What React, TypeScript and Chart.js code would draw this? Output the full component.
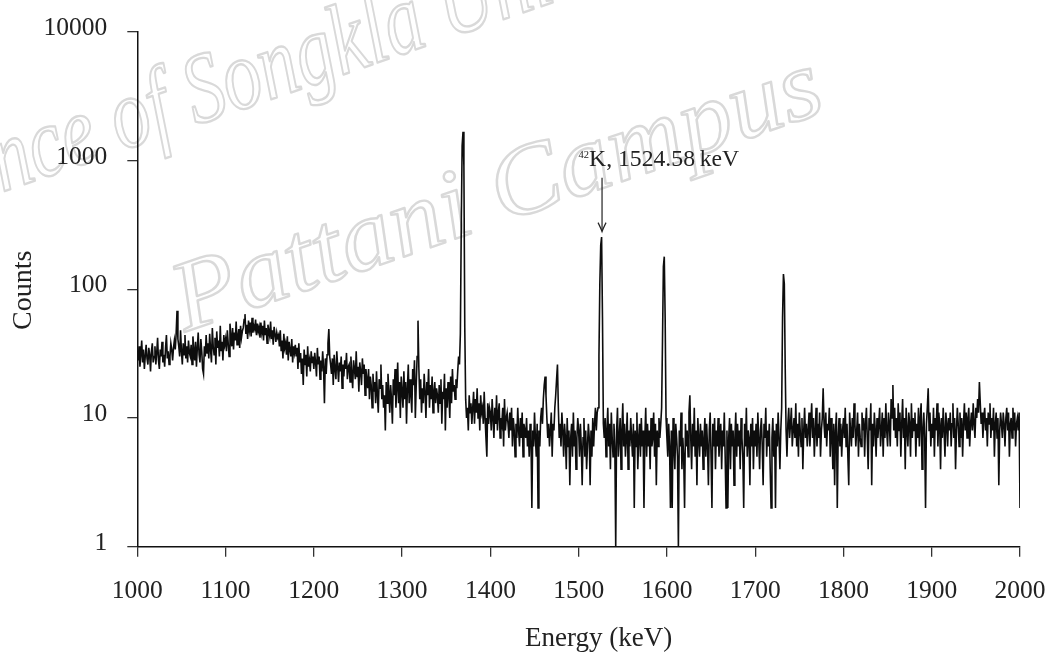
import { useEffect, useRef } from "react";
import { Chart, registerables } from "chart.js";

Chart.register(...registerables);

const WIDTH = 1051;
const HEIGHT = 659;

// Spectrum channels: 1 keV wide, starting at 1000 keV
const ENERGY_START_KEV = 1000;
const ENERGY_STEP_KEV = 1;

const COUNTS_1000_1199 = [
  33, 28, 36, 25, 31, 40, 27, 34, 24, 30, 37, 29, 26, 35, 31, 23, 33, 38, 27, 30,
  36, 26, 32, 42, 28, 24, 34, 30, 39, 27, 31, 25, 35, 44, 29, 33, 26, 30, 38, 34,
  28, 35, 40, 34, 45, 68, 41, 36, 30, 48, 33, 26, 38, 31, 44, 29, 36, 27, 40, 32,
  30, 37, 26, 43, 34, 28, 39, 25, 35, 46, 31, 27, 41, 33, 24, 22, 36, 30, 44, 32,
  38, 29, 45, 34, 27, 50, 36, 31, 42, 26, 47, 35, 40, 30, 52, 33, 39, 28, 44, 37,
  41, 33, 48, 38, 30, 54, 44, 36, 50, 34, 46, 40, 56, 37, 43, 49, 35, 52, 42, 47,
  50, 58, 64, 45, 53, 41, 57, 48, 55, 43, 60, 46, 52, 49, 58, 44, 54, 47, 51, 42,
  55, 46, 52, 40, 57, 44, 50, 38, 53, 47, 43, 56, 41, 48, 37, 51, 45, 39, 46, 42,
  44, 36, 48, 33, 40, 29, 45, 35, 38, 31, 43, 28, 39, 34, 30, 41, 27, 36, 32, 37,
  30, 35, 24, 38, 27, 32, 22, 29, 18, 34, 26, 31, 21, 36, 25, 28, 23, 33, 27, 30,
];

const COUNTS_1200_1399 = [
  24, 32, 27, 21, 35, 26, 30, 20, 28, 23, 33, 25, 13, 29, 22, 31, 38, 49, 30, 26,
  22, 29, 18, 31, 24, 20, 33, 25, 19, 27, 23, 30, 17, 26, 21, 28, 24, 32, 20, 25,
  26, 19, 30, 22, 17, 28, 24, 20, 33, 21, 25, 16, 27, 23, 18, 29, 22, 26, 15, 24,
  20, 17, 24, 14, 21, 18, 12, 22, 16, 19, 13, 23, 15, 11, 20, 17, 26, 14, 18, 12,
  15, 8, 19, 13, 22, 16, 11, 18, 14, 9, 20, 15, 24, 12, 17, 27, 13, 19, 10, 21,
  16, 12, 23, 14, 19, 9, 17, 26, 13, 20, 15, 11, 24, 18, 28, 10, 18, 30, 57, 24,
  14, 20, 11, 17, 13, 22, 16, 10, 19, 15, 24, 12, 18, 14, 21, 11, 16, 19, 13, 17,
  15, 11, 18, 13, 20, 9, 16, 14, 22, 8, 17, 12, 19, 15, 10, 21, 13, 24, 16, 18,
  14, 20, 17, 23, 30, 26, 45, 300, 1300, 1670, 900, 50, 14, 10, 12, 8, 15, 11, 13, 9,
  12, 16, 9, 14, 11, 17, 10, 13, 8, 15, 11, 12, 9, 16, 10, 7, 5, 13, 9, 12,
];

const COUNTS_1400_1599 = [
  11, 8, 14, 10, 7, 12, 9, 15, 8, 11, 13, 7, 10, 9, 12, 6, 14, 8, 10, 11,
  9, 7, 11, 8, 12, 6, 10, 8, 5, 9, 7, 12, 8, 6, 10, 7, 11, 5, 9, 8,
  7, 10, 6, 8, 5, 9, 7, 2, 8, 6, 11, 7, 5, 9, 2, 8, 6, 10, 12, 9,
  14, 18, 21, 15, 10, 7, 9, 6, 8, 11, 5, 9, 8, 12, 15, 20, 26, 12, 7, 9,
  6, 11, 8, 5, 9, 7, 4, 10, 6, 8, 3, 7, 9, 5, 11, 6, 8, 4, 7, 10,
  8, 5, 9, 6, 3, 7, 10, 5, 8, 4, 6, 9, 7, 3, 8, 5, 10, 6, 9, 12,
  8, 11, 12, 30, 110, 220, 254, 60, 9, 7, 10, 5, 8, 12, 6, 9, 4, 11, 7, 5,
  9, 6, 1, 8, 12, 5, 7, 10, 4, 8, 13, 6, 9, 5, 7, 11, 4, 8, 6, 10,
  7, 5, 9, 2, 8, 6, 11, 4, 7, 9, 5, 10, 6, 8, 2, 7, 12, 5, 9, 6,
  8, 4, 10, 6, 7, 11, 5, 9, 3, 8, 6, 10, 7, 9, 12, 40, 150, 179, 60, 10,
];

const COUNTS_1600_1799 = [
  7, 5, 9, 6, 2, 8, 2, 10, 6, 4, 9, 7, 5, 1, 8, 6, 11, 4, 7, 5,
  2, 9, 6, 8, 5, 11, 15, 7, 4, 9, 6, 12, 5, 8, 3, 10, 7, 5, 9, 6,
  8, 4, 7, 10, 5, 9, 6, 3, 8, 11, 5, 2, 9, 6, 10, 4, 8, 6, 10, 5,
  7, 9, 4, 8, 6, 11, 5, 2, 8, 2, 7, 10, 4, 9, 6, 8, 3, 7, 11, 5,
  9, 6, 8, 4, 10, 7, 5, 2, 9, 6, 12, 5, 8, 7, 3, 9, 6, 10, 4, 8,
  6, 9, 5, 11, 7, 4, 8, 10, 6, 3, 9, 7, 12, 5, 8, 6, 9, 4, 2, 7,
  10, 5, 8, 2, 9, 6, 11, 7, 4, 8, 12, 60, 131, 110, 25, 8, 5, 9, 12, 7,
  9, 12, 6, 8, 10, 7, 13, 6, 9, 5, 11, 8, 6, 10, 4, 8, 12, 7, 9, 6,
  8, 11, 6, 9, 13, 7, 10, 5, 8, 12, 6, 9, 7, 11, 5, 8, 10, 17, 9, 7,
  11, 6, 9, 8, 12, 5, 10, 7, 4, 9, 3, 8, 11, 2, 7, 10, 6, 9, 5, 8,
];

const COUNTS_1800_2000 = [
  10, 7, 12, 6, 9, 5, 3, 11, 8, 6, 10, 7, 13, 9, 6, 8, 11, 5, 9, 7,
  6, 11, 8, 10, 5, 9, 12, 7, 4, 10, 8, 13, 3, 9, 6, 11, 8, 5, 10, 7,
  9, 12, 6, 8, 11, 5, 10, 7, 13, 8, 6, 11, 9, 6, 14, 10, 18, 8, 12, 7,
  10, 6, 13, 8, 11, 5, 9, 14, 7, 10, 4, 12, 8, 6, 11, 9, 5, 13, 7, 10,
  8, 11, 5, 9, 7, 12, 6, 10, 13, 4, 8, 11, 7, 2, 9, 12, 17, 8, 11, 6,
  9, 7, 12, 5, 10, 8, 13, 6, 11, 9, 4, 10, 7, 12, 8, 5, 11, 9, 6, 10,
  8, 11, 6, 9, 13, 7, 10, 4, 8, 12, 9, 6, 11, 7, 10, 5, 9, 13, 8, 11,
  7, 10, 12, 6, 9, 11, 8, 13, 9, 7, 12, 10, 14, 11, 19, 13, 9, 11, 7, 10,
  12, 8, 10, 6, 11, 9, 13, 7, 10, 8, 12, 5, 9, 11, 7, 10, 3, 8, 11, 9,
  7, 11, 9, 6, 10, 12, 8, 11, 5, 9, 10, 7, 12, 8, 11, 6, 9, 10, 8, 11,
  2,
];

const COUNTS = [
  ...COUNTS_1000_1199,
  ...COUNTS_1200_1399,
  ...COUNTS_1400_1599,
  ...COUNTS_1600_1799,
  ...COUNTS_1800_2000,
];
const ENERGIES = COUNTS.map((_, i) => ENERGY_START_KEV + i * ENERGY_STEP_KEV);

const X_TICKS = [1000, 1100, 1200, 1300, 1400, 1500, 1600, 1700, 1800, 1900, 2000];
const Y_TICKS = [1, 10, 100, 1000, 10000];

const X_TITLE = "Energy (keV)";
const Y_TITLE = "Counts";

const PEAK_SUPERSCRIPT = "42";
const PEAK_LABEL = "K, 1524.58\u2009keV";
const PEAK_ARROW_ENERGY = 1526.5;
const PEAK_ARROW_FROM_COUNTS = 735;
const PEAK_ARROW_TO_COUNTS = 280;
const PEAK_LABEL_COUNTS = 906;

const WATERMARK_LINE_1 = "Prince of Songkla University";
const WATERMARK_LINE_2 = "Pattani Campus";

const SERIF = "'Liberation Serif', 'DejaVu Serif', serif";

const overlayPlugin = {
  id: "overlay",
  beforeDraw(chart: any) {
    const ctx: CanvasRenderingContext2D = chart.ctx;
    ctx.save();
    ctx.fillStyle = "#ffffff";
    ctx.fillRect(0, 0, chart.width, chart.height);

    // faint watermark
    ctx.strokeStyle = "#d9d9d9";
    ctx.lineWidth = 2.4;
    ctx.lineJoin = "round";
    ctx.font = `italic 100px ${SERIF}`;
    const pre = ctx.measureText("Pri").width;
    const vis = ctx.measureText("nce of ").width;
    const s1 = 205 / vis;
    ctx.translate(2, 192);
    ctx.rotate((-19 * Math.PI) / 180);
    ctx.scale(s1, 1);
    ctx.strokeText(WATERMARK_LINE_1, -pre, 0);
    ctx.restore();

    ctx.save();
    ctx.strokeStyle = "#d9d9d9";
    ctx.lineWidth = 2.4;
    ctx.lineJoin = "round";
    ctx.font = `italic 100px ${SERIF}`;
    const w2 = ctx.measureText(WATERMARK_LINE_2).width;
    ctx.translate(185, 332);
    ctx.rotate((-19 * Math.PI) / 180);
    ctx.scale(680 / w2, 1);
    ctx.strokeText(WATERMARK_LINE_2, 0, 0);
    ctx.restore();
  },
  afterDraw(chart: any) {
    const ctx: CanvasRenderingContext2D = chart.ctx;
    const xs = chart.scales.x;
    const ys = chart.scales.y;
    const area = chart.chartArea;
    ctx.save();

    // arrow to the 42K peak
    const ax = xs.getPixelForValue(PEAK_ARROW_ENERGY);
    const y0 = ys.getPixelForValue(PEAK_ARROW_FROM_COUNTS);
    const y1 = ys.getPixelForValue(PEAK_ARROW_TO_COUNTS);
    ctx.strokeStyle = "#222";
    ctx.lineWidth = 1.2;
    ctx.beginPath();
    ctx.moveTo(ax, y0);
    ctx.lineTo(ax, y1 - 0.5);
    ctx.stroke();
    ctx.beginPath();
    ctx.moveTo(ax - 4, y1 - 9);
    ctx.quadraticCurveTo(ax - 1, y1 - 3, ax, y1);
    ctx.quadraticCurveTo(ax + 1, y1 - 3, ax + 4, y1 - 9);
    ctx.stroke();

    // label
    const by = ys.getPixelForValue(PEAK_LABEL_COUNTS);
    ctx.fillStyle = "#222";
    ctx.textBaseline = "alphabetic";
    ctx.textAlign = "left";
    const left = ax - 23.5;
    ctx.font = `10.5px ${SERIF}`;
    ctx.fillText(PEAK_SUPERSCRIPT, left, by - 7.8);
    const sw = ctx.measureText(PEAK_SUPERSCRIPT).width;
    ctx.font = `23.7px ${SERIF}`;
    ctx.fillText(PEAK_LABEL, left + sw, by);

    // axis titles
    ctx.fillStyle = "#222";
    ctx.font = `27px ${SERIF}`;
    ctx.textAlign = "center";
    ctx.textBaseline = "alphabetic";
    ctx.fillText(X_TITLE, (area.left + area.right) / 2 + 20, 646);

    ctx.save();
    ctx.font = `28px ${SERIF}`;
    ctx.translate(31, (area.top + area.bottom) / 2 + 1);
    ctx.rotate(-Math.PI / 2);
    ctx.fillText(Y_TITLE, 0, 0);
    ctx.restore();

    ctx.restore();
  },
};

export default function App() {
  const canvasRef = useRef<HTMLCanvasElement | null>(null);

  useEffect(() => {
    const canvas = canvasRef.current;
    if (!canvas) return;
    const tickFont = { family: SERIF, size: 25.5 };
    const chart = new Chart(canvas, {
      type: "line",
      data: {
        datasets: [
          {
            data: ENERGIES.map((x, i) => ({ x, y: COUNTS[i] })),
            borderColor: "#0d0d0d",
            borderWidth: 1.6,
            pointRadius: 0,
            tension: 0,
            fill: false,
          },
        ],
      },
      options: {
        animation: false,
        responsive: false,
        devicePixelRatio: 1,
        events: [],
        layout: { padding: { left: 0, right: 31, top: 31.7, bottom: 0 } },
        plugins: {
          legend: { display: false },
          tooltip: { enabled: false },
        },
        scales: {
          x: {
            type: "linear",
            min: 1000,
            max: 2000,
            afterBuildTicks: (s: any) => {
              s.ticks = X_TICKS.map((v) => ({ value: v }));
            },
            afterFit: (s: any) => {
              s.height = 112.3;
              s.paddingLeft = 0;
              s.paddingRight = 0;
              s.paddingTop = 0;
              s.paddingBottom = 0;
            },
            ticks: {
              font: tickFont,
              color: "#222",
              padding: 19,
              maxRotation: 0,
              autoSkip: false,
              callback: (v: any) => String(v),
            },
            grid: {
              drawOnChartArea: false,
              drawTicks: true,
              tickLength: 10,
              color: "#333",
              lineWidth: 1.3,
            },
            border: { display: true, color: "#111", width: 1.5 },
          },
          y: {
            type: "logarithmic",
            min: 1,
            max: 10000,
            afterBuildTicks: (s: any) => {
              s.ticks = Y_TICKS.map((v) => ({ value: v }));
            },
            afterFit: (s: any) => {
              s.width = 137.3;
              s.paddingLeft = 0;
              s.paddingRight = 0;
              s.paddingTop = 0;
              s.paddingBottom = 0;
            },
            ticks: {
              font: tickFont,
              color: "#222",
              padding: 20,
              labelOffset: -3.5,
              autoSkip: false,
              callback: (v: any) => String(v),
            },
            grid: {
              drawOnChartArea: false,
              drawTicks: true,
              tickLength: 10,
              color: "#333",
              lineWidth: 1.3,
            },
            border: { display: true, color: "#111", width: 1.5 },
          },
        },
      },
      plugins: [overlayPlugin],
    } as any);
    return () => chart.destroy();
  }, []);

  return (
    <div
      style={{
        position: "fixed",
        left: 0,
        top: 0,
        width: WIDTH,
        height: HEIGHT,
        background: "#fff",
      }}
    >
      <canvas ref={canvasRef} width={WIDTH} height={HEIGHT} style={{ width: WIDTH, height: HEIGHT }} />
    </div>
  );
}
